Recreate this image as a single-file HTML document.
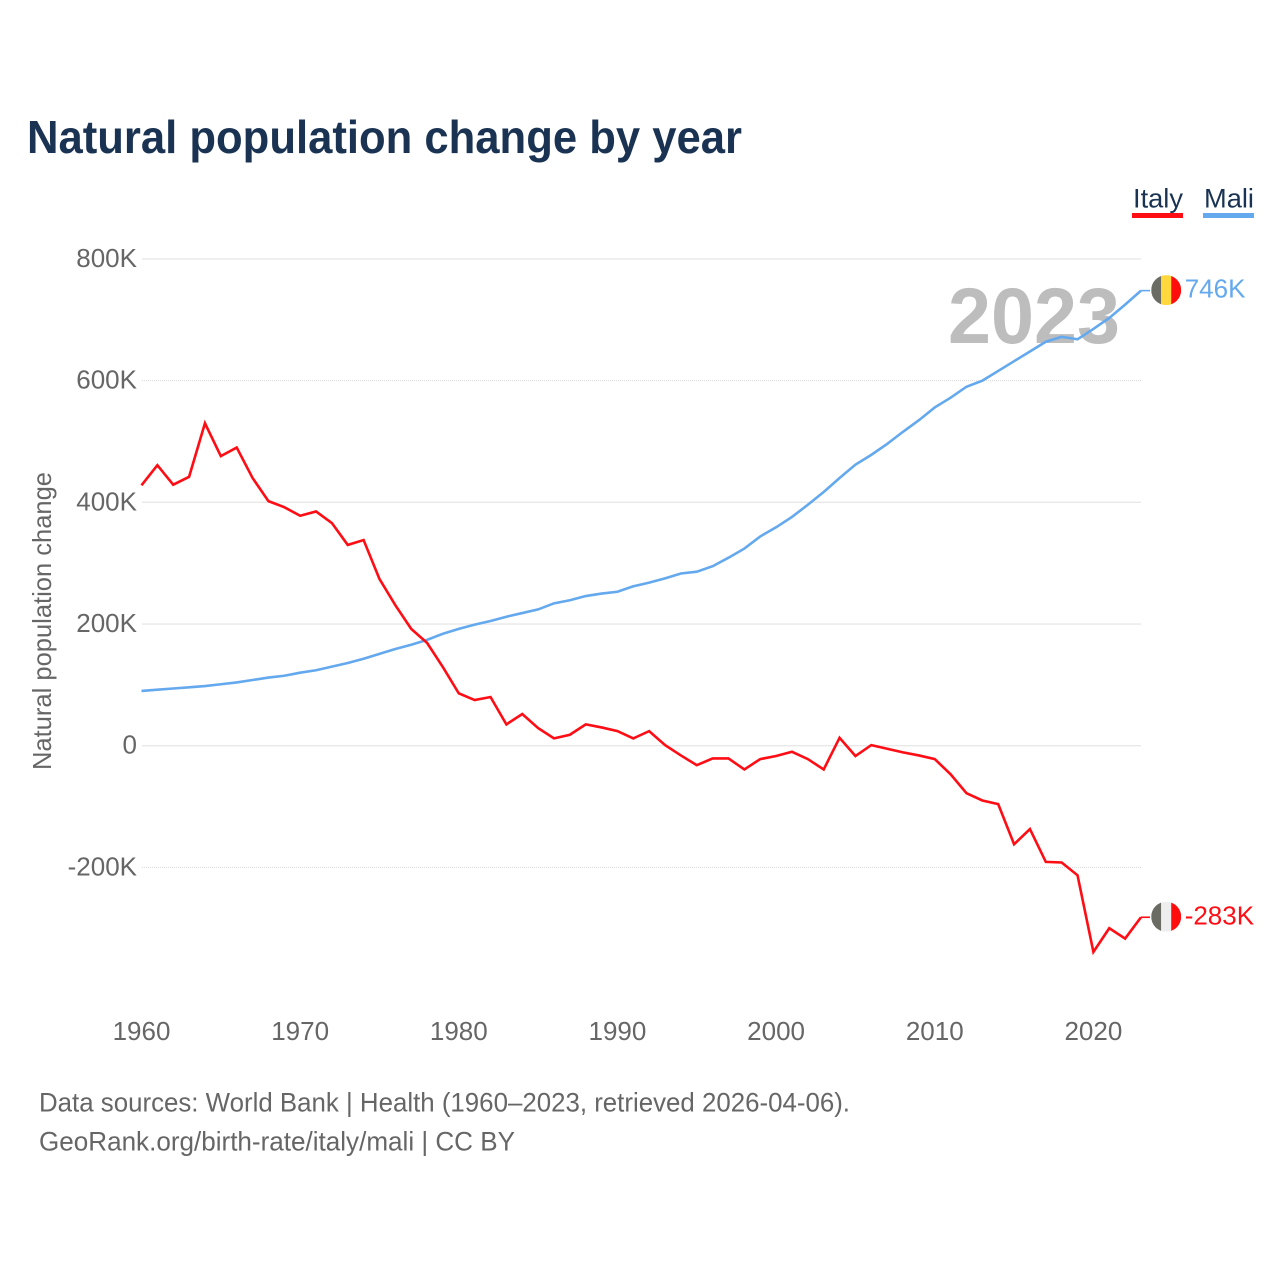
<!DOCTYPE html>
<html lang="en">
<head>
<meta charset="utf-8">
<title>Natural population change by year</title>
<style>
html,body{margin:0;padding:0;background:#fff;}
svg{display:block;font-family:"Liberation Sans",sans-serif;}
</style>
</head>
<body>
<svg id="chart" xmlns="http://www.w3.org/2000/svg" width="1280" height="1280" viewBox="0 0 1280 1280">
  <rect x="0" y="0" width="1280" height="1280" fill="#ffffff"/>
  <text x="27" y="153" font-size="46" font-weight="700" fill="#1a3353" textLength="715" lengthAdjust="spacingAndGlyphs">Natural population change by year</text>

  <g>
    <g>
      <text x="1133" y="207.5" font-size="27" fill="#1a3353" textLength="50" lengthAdjust="spacingAndGlyphs">Italy</text>
      <rect x="1132" y="213" width="51" height="5" fill="#ff0d14"/>
    </g>
    <g>
      <text x="1204" y="207.5" font-size="27" fill="#1a3353" textLength="50" lengthAdjust="spacingAndGlyphs">Mali</text>
      <rect x="1203" y="213" width="51" height="5" fill="#64a9ee"/>
    </g>
  </g>

  <g id="grid"></g>
  <g id="yticks"></g>
  <g id="xticks"></g>

  <text transform="translate(51,621) rotate(-90)" text-anchor="middle" font-size="26" fill="#666666" textLength="298" lengthAdjust="spacingAndGlyphs">Natural population change</text>

  <text x="1120" y="343" text-anchor="end" font-size="79" font-weight="700" fill="#bdbdbd" textLength="172" lengthAdjust="spacingAndGlyphs">2023</text>

  <g id="series"></g>
  <g id="ends"></g>

  <text x="39" y="1111.5" font-size="27" fill="#666666" textLength="811" lengthAdjust="spacingAndGlyphs">Data sources: World Bank | Health (1960–2023, retrieved 2026-04-06).</text>
  <text x="39" y="1150.5" font-size="27" fill="#666666" textLength="476" lengthAdjust="spacingAndGlyphs">GeoRank.org/birth-rate/italy/mali | CC BY</text>
</svg>

<script>
var years = [1960,1961,1962,1963,1964,1965,1966,1967,1968,1969,1970,1971,1972,1973,1974,1975,1976,1977,1978,1979,1980,1981,1982,1983,1984,1985,1986,1987,1988,1989,1990,1991,1992,1993,1994,1995,1996,1997,1998,1999,2000,2001,2002,2003,2004,2005,2006,2007,2008,2009,2010,2011,2012,2013,2014,2015,2016,2017,2018,2019,2020,2021,2022,2023];
var italyValues = [428,461,429,442,530,476,490,440,402,392,378,385,366,330,338,274,231,192,169,129,86,75,80,35,52,29,12,18,35,30,24,12,24,1,-16,-32,-21,-21,-39,-22,-17,-10,-22,-39,13,-17,1,-5,-11,-16,-22,-47,-78,-90,-96,-162,-137,-191,-192,-213,-339,-300,-317,-282];
var maliValues = [90,92,94,96,98,101,104,108,112,115,120,124,130,136,143,151,159,166,174,184,192,199,205,212,218,224,234,239,246,250,253,262,268,275,283,286,295,309,324,344,359,376,396,417,440,462,478,496,516,535,556,572,590,600,616,632,648,664,672,668,685,703,725,748];
var yTickValues = [-200,0,200,400,600,800];
var yTickLabels = ["-200K","0","200K","400K","600K","800K"];
var xTickValues = [1960,1970,1980,1990,2000,2010,2020];
var xTickLabels = ["1960","1970","1980","1990","2000","2010","2020"];
var italyEndLabel = "-283K";
var maliEndLabel = "746K";

var NS = "http://www.w3.org/2000/svg";
function xScale(year){ return 141.5 + (year - 1960) * 15.865; }
function yScale(value){ return 745.7 - value * 0.6084; }
function make(tag, attrs, parent){
  var el = document.createElementNS(NS, tag);
  for (var k in attrs) el.setAttribute(k, attrs[k]);
  parent.appendChild(el);
  return el;
}
var grid = document.getElementById("grid");
var yticks = document.getElementById("yticks");
var xticks = document.getElementById("xticks");
var series = document.getElementById("series");
var ends = document.getElementById("ends");

yTickValues.forEach(function(v, i){
  var dotted = (v === 600 || v === -200);
  var line = make("line", {x1:142, x2:1141, y1:yScale(v), y2:yScale(v), stroke:dotted ? "#d8d8d8" : "#e8e8e8", "stroke-width":dotted ? 1 : 1.4}, grid);
  if (dotted) line.setAttribute("stroke-dasharray", "1 1");
  
  
  var label = make("text", {x:137, y:yScale(v)+8, "text-anchor":"end", "font-size":26, fill:"#666666"}, yticks);
  label.textContent = yTickLabels[i];
  
  
});

xTickValues.forEach(function(v, i){
  var label = make("text", {x:xScale(v), y:1040, "text-anchor":"middle", "font-size":26, fill:"#666666"}, xticks);
  label.textContent = xTickLabels[i];
  
  
});

function pathFor(values){
  return values.map(function(v, i){
    return (i ? "L" : "M") + xScale(years[i]).toFixed(2) + " " + yScale(v).toFixed(2);
  }).join(" ");
}

var maliLine = make("path", {d:pathFor(maliValues), fill:"none", stroke:"#64a9ee", "stroke-width":2.6, "stroke-linejoin":"miter"}, series);


var italyLine = make("path", {d:pathFor(italyValues), fill:"none", stroke:"#ff0d14", "stroke-width":2.6, "stroke-linejoin":"miter"}, series);



function endMarker(values, color, stripes, text, clipId){
  var last = values.length - 1;
  var ex = xScale(years[last]);
  var ey = yScale(values[last]);
  var connector = make("line", {x1:ex, x2:ex+9, y1:ey, y2:ey, stroke:color, "stroke-width":1.6}, ends);
  
  
  var cx = ex + 25.2, cy = ey - 0.5;
  var defs = make("defs", {}, ends);
  var clip = make("clipPath", {id:clipId}, defs);
  make("circle", {cx:cx, cy:cy, r:15}, clip);
  var flag = make("g", {"clip-path":"url(#"+clipId+")"}, ends);
  
  
  stripes.forEach(function(c, i){
    make("rect", {x:cx-15+i*10, y:cy-15, width:10, height:30, fill:c}, flag);
  });
  var label = make("text", {x:cx+18.5, y:cy+7.5, "font-size":26, fill:color}, ends);
  label.textContent = text;
  
  
}
endMarker(maliValues, "#64a9ee", ["#6a6b63","#ffd83d","#ff0d0d"], maliEndLabel, "clip-mali");
endMarker(italyValues, "#ff0d14", ["#6a6b63","#eeeeee","#ff0d0d"], italyEndLabel, "clip-italy");
</script>
</body>
</html>
